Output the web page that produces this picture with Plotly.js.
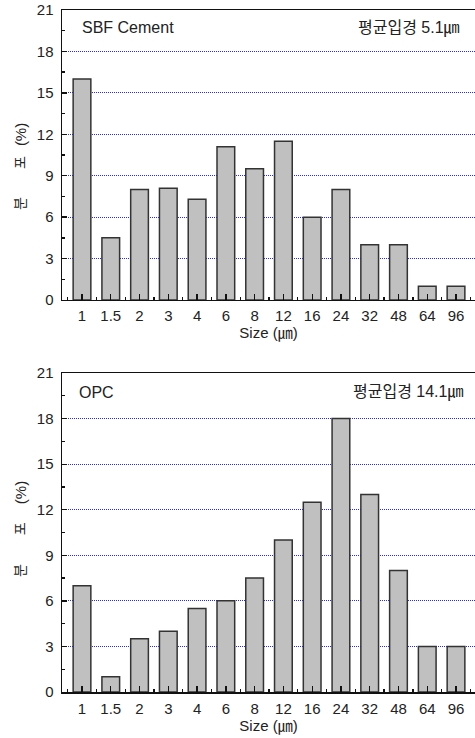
<!DOCTYPE html>
<html>
<head>
<meta charset="utf-8">
<script src="https://cdn.plot.ly/plotly-3.0.1.min.js"></script>
<style>html,body{margin:0;padding:0;background:#fff;}#chart{width:475px;height:738px;}</style>
</head>
<body>
<div id="chart"></div>
<script>
const sizes = ["1", "1.5", "2", "3", "4", "6", "8", "12", "16", "24", "32", "48", "64", "96"];
const sbfValues = [16, 4.5, 8, 8.1, 7.3, 11.1, 9.5, 11.5, 6, 8, 4, 4, 1, 1];
const opcValues = [7, 1, 3.5, 4, 5.5, 6, 7.5, 10, 12.5, 18, 13, 8, 3, 3];
const sbfLabel = "SBF Cement";
const sbfMean = "평균입경 5.1㎛";
const opcLabel = "OPC";
const opcMean = "평균입경 14.1㎛";
const xTitle = "Size (㎛)";

const FONT = "Liberation Sans, Arial, 'Noto Sans CJK KR', sans-serif";
const idx = sizes.map((_, i) => i);

const barStyle = {
  type: "bar",
  width: 0.615,
  marker: { color: "#c0c0c0", line: { color: "#333333", width: 1.5 } },
  hoverinfo: "skip",
  showlegend: false
};

const traces = [
  Object.assign({}, barStyle, { x: idx, y: sbfValues, xaxis: "x", yaxis: "y" }),
  Object.assign({}, barStyle, { x: idx, y: opcValues, xaxis: "x2", yaxis: "y2" })
];

function xAxis(anchor) {
  return {
    anchor: anchor,
    range: [-0.695, 13.66],
    tickmode: "array",
    tickvals: idx,
    ticktext: sizes,
    ticks: "inside",
    ticklen: 6,
    tickwidth: 1.3,
    tickcolor: "#111",
    minor: { tick0: 0.5, dtick: 1, ticks: "inside", ticklen: 3, tickwidth: 1.3, tickcolor: "#111", showgrid: false },
    showline: true,
    linecolor: "#111",
    linewidth: 1.5,
    mirror: true,
    showgrid: false,
    zeroline: false,
    tickfont: { family: FONT, size: 15, color: "#222" },
    ticklabelstandoff: 2,
    title: { text: xTitle, font: { family: FONT, size: 15, color: "#222" }, standoff: 0 },
    fixedrange: true
  };
}

function yAxis(anchor, domain) {
  return {
    anchor: anchor,
    domain: domain,
    range: [0, 21],
    dtick: 3,
    tick0: 0,
    ticks: "inside",
    ticklen: 5,
    tickwidth: 1.3,
    tickcolor: "#111",
    minor: { dtick: 1.5, ticks: "inside", ticklen: 3, tickwidth: 1.3, tickcolor: "#111", showgrid: false },
    showline: true,
    linecolor: "#111",
    linewidth: 1.5,
    showgrid: true,
    gridcolor: "#2a2aee",
    gridwidth: 1,
    griddash: "1px,1px",
    zeroline: false,
    tickfont: { family: FONT, size: 15, color: "#222" },
    ticklabelstandoff: 4,
    fixedrange: true
  };
}

function txt(text, xref, yref, x, y, xanchor, size, angle) {
  return {
    text: text, xref: xref, yref: yref, x: x, y: y,
    xanchor: xanchor, yanchor: "middle", showarrow: false,
    textangle: angle || 0,
    font: { family: FONT, size: size, color: "#222" }
  };
}

const layout = {
  width: 475,
  height: 738,
  margin: { l: 62, r: 0, t: 10, b: 46 },
  paper_bgcolor: "#fff",
  plot_bgcolor: "#fff",
  bargap: 0,
  xaxis: xAxis("y"),
  yaxis: yAxis("x", [0.5748, 1]),
  xaxis2: xAxis("y2"),
  yaxis2: yAxis("x2", [0, 0.4677]),
  annotations: [
    txt(sbfLabel, "x domain", "y domain", 0.043, 0.941, "left", 16),
    txt(sbfMean, "x domain", "y domain", 0.9685, 0.938, "right", 16),
    txt(opcLabel, "x2 domain", "y2 domain", 0.036, 0.94, "left", 16),
    txt(opcMean, "x2 domain", "y2 domain", 0.976, 0.94, "right", 16),
    txt("분", "paper", "paper", -0.1017, 0.717, "center", 14, -90),
    txt("포", "paper", "paper", -0.1017, 0.777, "center", 14, -90),
    txt("(%)", "paper", "paper", -0.1017, 0.818, "center", 15, -90),
    txt("분", "paper", "paper", -0.1017, 0.179, "center", 14, -90),
    txt("포", "paper", "paper", -0.1017, 0.240, "center", 14, -90),
    txt("(%)", "paper", "paper", -0.1017, 0.293, "center", 15, -90)
  ]
};

Plotly.newPlot("chart", traces, layout, { staticPlot: true, displayModeBar: false });
</script>
</body>
</html>
